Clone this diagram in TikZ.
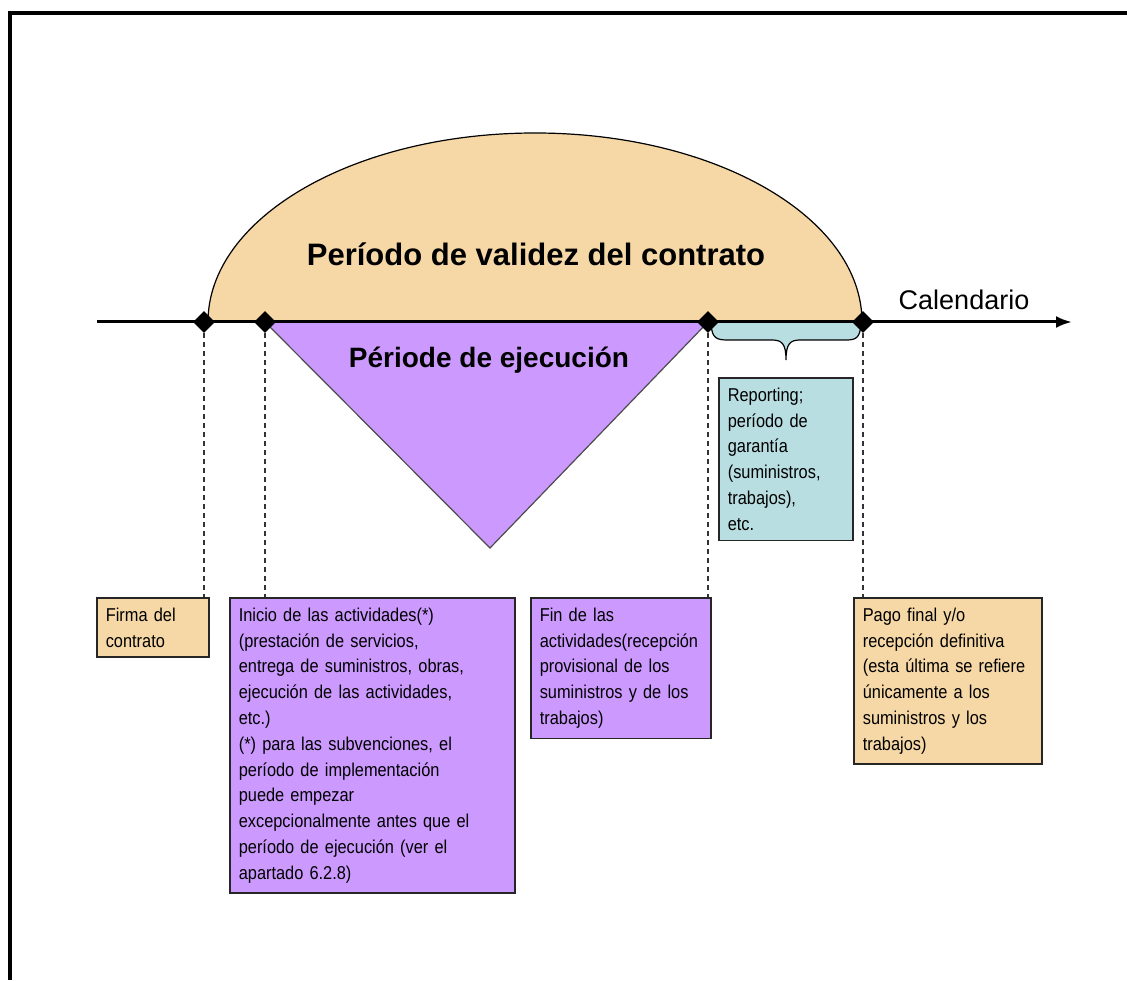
\documentclass[tikz,border=0pt]{standalone}
\usepackage{fontspec}
\setmainfont{Liberation Sans}
\newfontfamily\boxfont[FakeStretch=0.88]{Liberation Sans}
\usetikzlibrary{shapes.geometric,arrows.meta}
\definecolor{validez}{RGB}{246,216,166}
\definecolor{ejecucion}{RGB}{204,153,255}
\definecolor{garantia}{RGB}{184,222,226}

\begin{document}
\begin{tikzpicture}[x=0.5pt, y=0.5pt,
  hito/.style={diamond, fill=black, inner sep=0pt, minimum size=11pt},
  cuadro/.style={draw=black!85, line width=0.8pt, anchor=north west, align=left,
    inner xsep=4.5pt, inner ysep=5pt, font=\boxfont\fontsize{9.3}{12.9}\selectfont},
  guia/.style={black!80, line width=0.6pt, dash pattern=on 2.5pt off 2pt}]
\useasboundingbox (0,0) rectangle (1127,980);
\draw[line width=1.8pt](10,0)--(10,967)--(1127,967);

% periodos
\filldraw[fill=validez, draw=black, line width=0.6pt](208,658) arc[start angle=180, end angle=0, x radius=163.5pt, y radius=94.5pt]--cycle;
\filldraw[fill=ejecucion, draw=black!70, line width=0.6pt](265,658)--(490,432)--(708,658)--cycle;
\fill[garantia](711,658)--(711,656).. controls (712,642) and (716,640)..(728,640)--(772,640).. controls (782,640) and (786,636)..(786,620).. controls (786,636) and (790,640)..(800,640)--(846,640).. controls (856,640) and (860,642)..(861,656)--(861,658)--cycle;
\draw[line width=0.6pt](711,656).. controls (712,642) and (716,640)..(728,640)--(772,640).. controls (782,640) and (786,636)..(786,620).. controls (786,636) and (790,640)..(800,640)--(846,640).. controls (856,640) and (860,642)..(861,656);

% calendario
\coordinate (origen) at (97,658);
\coordinate (destino) at (1072,658);
\draw[line width=1.5pt, -{Latex[length=8pt,width=6pt]}](origen)--(destino);
\node[hito] (hfirma) at (204,658) {};
\node[hito] (hinicio) at (265,658) {};
\node[hito] (hfin) at (708,658) {};
\node[hito] (hpago) at (863,658) {};

\node[font=\bfseries\fontsize{15.5}{18}\selectfont] (validez) at (536,726) {Período de validez del contrato};
\node[font=\bfseries\fontsize{14}{17}\selectfont] (ejecucion) at (489,620) {Période de ejecución};
\node[font=\fontsize{13.5}{16}\selectfont] (calendario) at (964,680) {Calendario};

% cuadros
\node[cuadro, fill=validez, text width=47pt] (firma) at (96,383) {Firma del\\contrato};
\node[cuadro, fill=ejecucion, text width=133.5pt] (inicio) at (229,383) {Inicio de las actividades(*)\\(prestación de servicios,\\entrega de suministros, obras,\\ejecución de las actividades,\\etc.)\\(*) para las subvenciones, el\\período de implementación\\puede empezar\\excepcionalmente antes que el\\período de ejecución (ver el\\apartado 6.2.8)};
\node[cuadro, fill=ejecucion, text width=81pt] (fin) at (530,383) {Fin de las\\actividades(recepción\\provisional de los\\suministros y de los\\trabajos)};
\node[cuadro, fill=validez, text width=85pt] (pago) at (853,383) {Pago final y/o\\recepción definitiva\\(esta última se refiere\\únicamente a los\\suministros y los\\trabajos)};
\node[cuadro, fill=garantia, text width=58pt] (reporting) at (718,603) {Reporting;\\período de\\garantía\\(suministros,\\trabajos),\\etc.};

\draw[guia](hfirma.south)--(hfirma |- firma.north);
\draw[guia](hinicio.south)--(hinicio |- inicio.north);
\draw[guia](hfin.south)--(hfin |- fin.north);
\draw[guia](hpago.south)--(hpago |- pago.north);
\end{tikzpicture}
\end{document}
